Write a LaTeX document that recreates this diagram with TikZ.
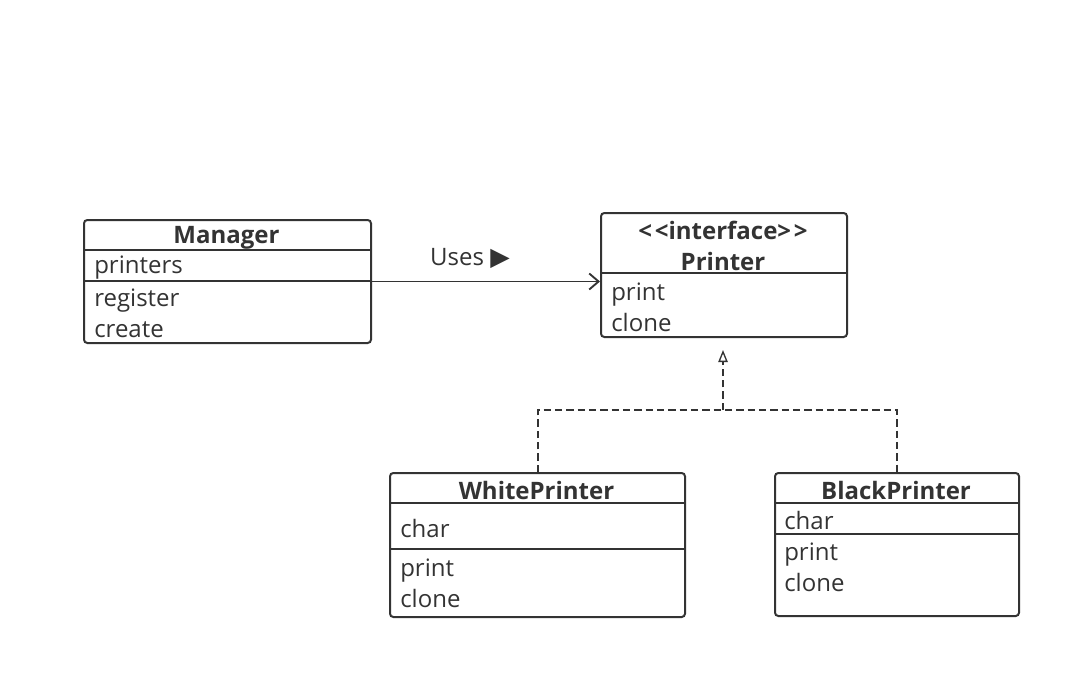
\documentclass[tikz,border=0pt]{standalone}
\usepackage{fontspec}
\setmainfont{Open Sans}
\newfontfamily\symfont{DejaVu Sans}
\usetikzlibrary{arrows.meta,positioning,calc}

\definecolor{ink}{HTML}{333333}
\newcommand{\umlfont}{\fontsize{18}{23.25}\selectfont}

\tikzset{
  classbox/.style={draw=ink, line width=1.5pt, rounded corners=2.5pt, anchor=north west,
    inner sep=0pt},
  classname/.style={font=\umlfont\bfseries, text=ink, align=center, inner sep=0pt},
  member/.style={font=\umlfont, text=ink, align=left, anchor=west, inner sep=0pt},
  divider/.style={draw=ink, line width=1.5pt},
  uses/.style={draw=ink, line width=1.4pt, -{Straight Barb[length=7pt,width=12pt,line width=1.4pt]}},
  realize/.style={draw=ink, line width=1.5pt, dash pattern=on 5.5pt off 3pt},
}

\begin{document}
\begin{tikzpicture}[x=0.75pt, y=-0.75pt, font=\umlfont]
    \useasboundingbox (0,0) rectangle (1080,678);

    % Manager class
    \node[classbox, minimum width=287*0.75pt, minimum height=123*0.75pt] (manager) at (83,219) {};
    \draw[divider] (83,250) -- (370,250);
    \draw[divider] (83,281) -- (370,281);
    \node[classname] (manager-name) at (226.5,238) {Manager};
    \node[member] (manager-attr) at (94,268) {printers};
    \node[member] (manager-ops) at (94,313) {register\\create};

    % Printer interface
    \node[classbox, minimum width=246*0.75pt, minimum height=124*0.75pt] (printer) at (600,212) {};
    \draw[divider] (600,273) -- (846,273);
    \node[classname] (printer-name) at (723,245.5) {<\kern2pt<interface>\kern2pt>\\Printer};
    \node[member] (printer-ops) at (611,307.5) {print\\clone};

    % WhitePrinter class
    \node[classbox, minimum width=295*0.75pt, minimum height=144*0.75pt] (white) at (389,472) {};
    \draw[divider] (389,503) -- (684,503);
    \draw[divider] (389,549) -- (684,549);
    \node[classname] (white-name) at (536.5,490) {WhitePrinter};
    \node[member] (white-attr) at (400,528) {char};
    \node[member] (white-ops) at (400,583.5) {print\\clone};

    % BlackPrinter class
    \node[classbox, minimum width=244*0.75pt, minimum height=143*0.75pt] (black) at (774,472) {};
    \draw[divider] (774,503) -- (1018,503);
    \draw[divider] (774,534) -- (1018,534);
    \node[classname] (black-name) at (896,490) {BlackPrinter};
    \node[member] (black-attr) at (784,520) {char};
    \node[member] (black-ops) at (784,567.5) {print\\clone};

    % Uses association
    \draw[uses] (manager.east) -- (manager.east -| printer.west);
    \node[text=ink] (uses-label) at (470,258) {Uses {\symfont\fontsize{19}{19}\selectfont ▶}};

    % Realization
    \coordinate (join) at (723,410);
    \coordinate (tip) at (723,350);
    \draw[realize] (white.north) |- (join) -| (black.north);
    \draw[realize, -{Triangle[open, length=9pt, width=7pt, line width=1pt, sep=0pt]}] (join) -- (tip);
\end{tikzpicture}
\end{document}
